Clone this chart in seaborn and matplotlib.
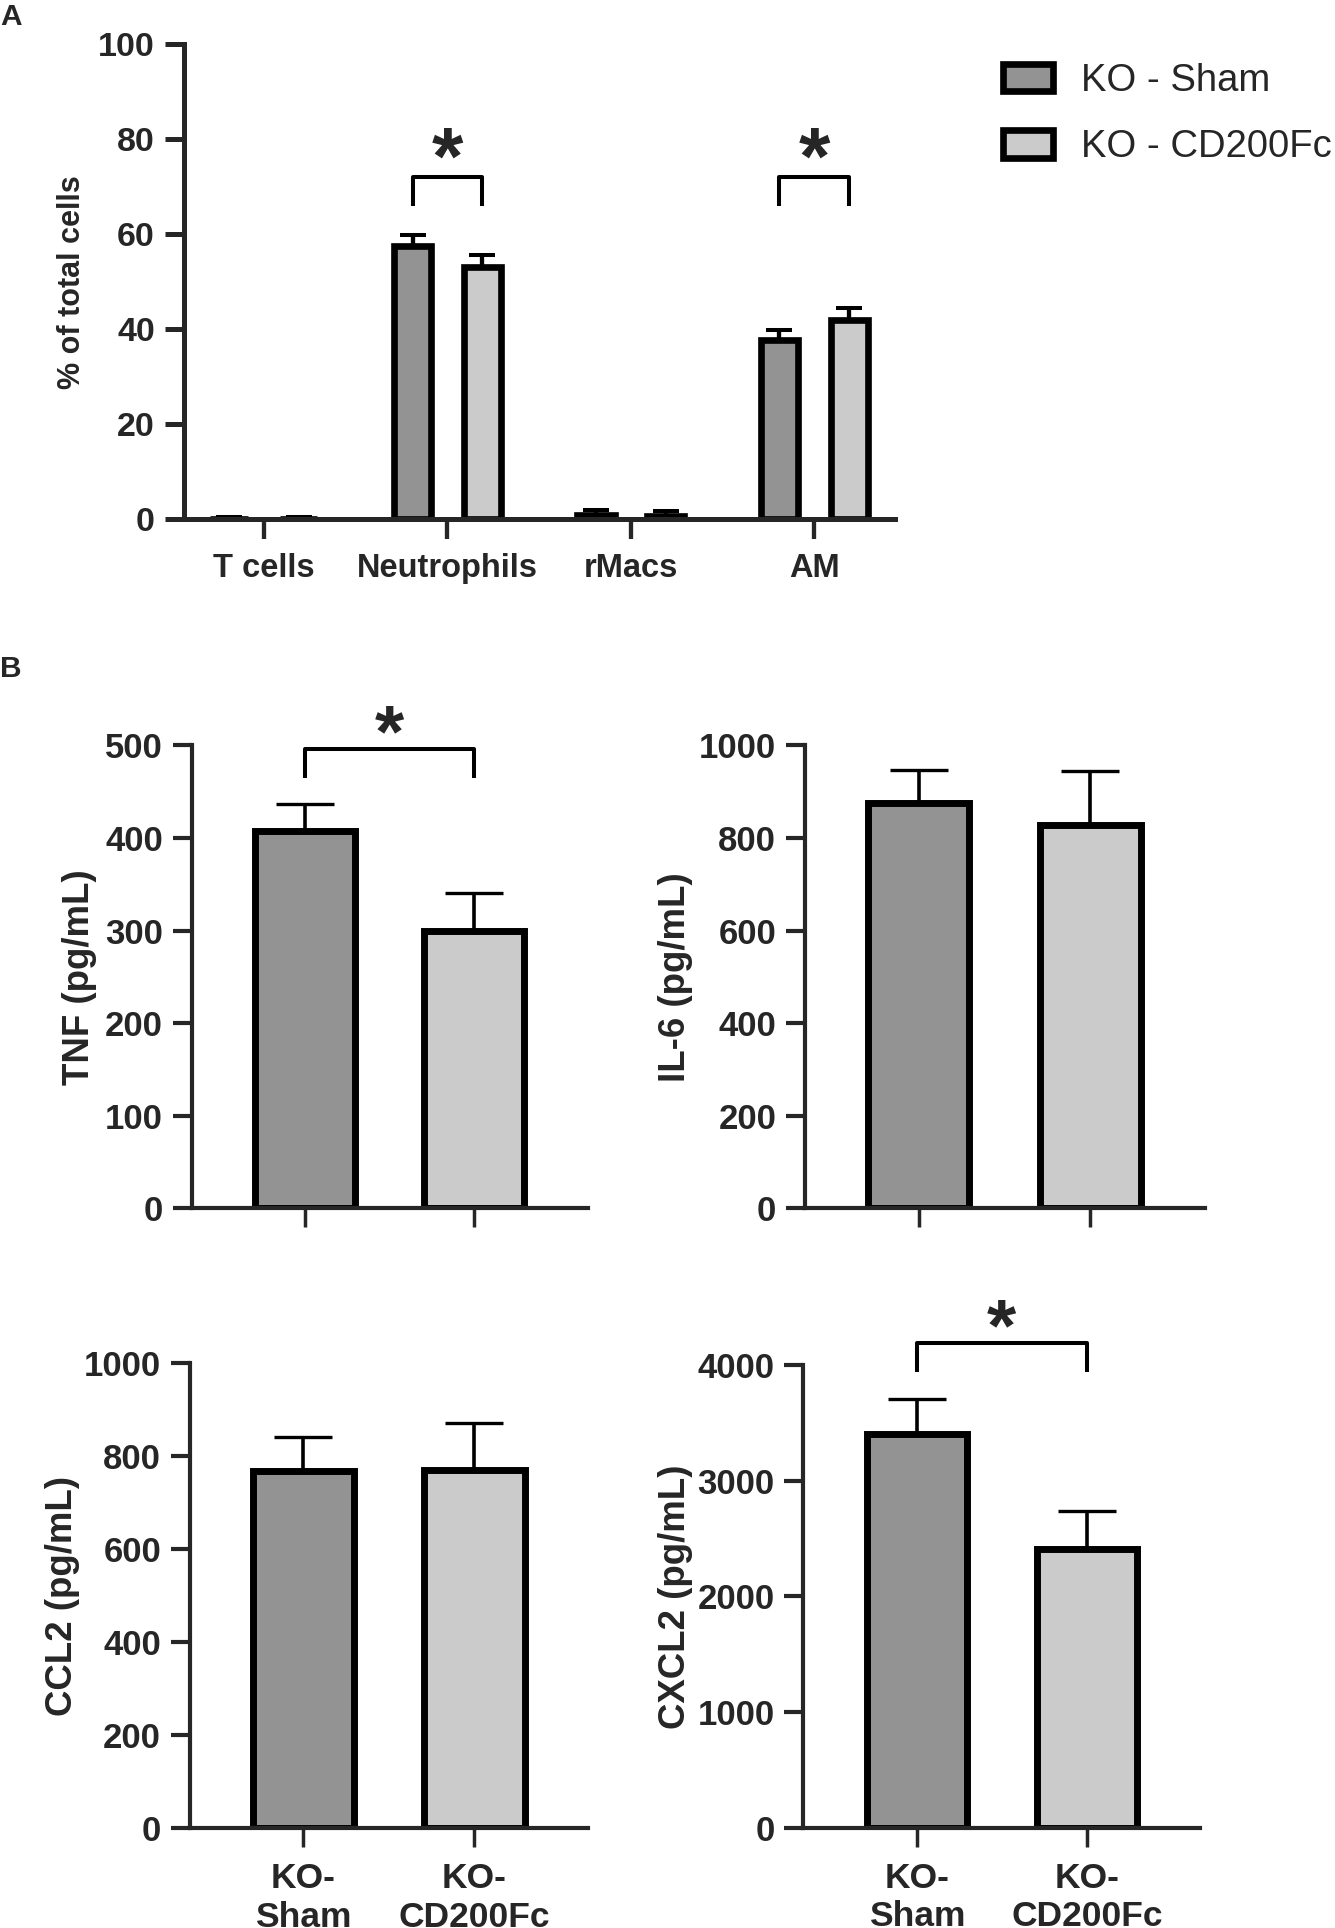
import matplotlib
matplotlib.use("Agg")
import matplotlib.pyplot as plt
import pandas as pd
import seaborn as sns
from matplotlib.patches import Patch

# ---- panel A: cell populations ----
cells = ["T cells", "Neutrophils", "rMacs", "AM"]
groups = ["KO - Sham", "KO - CD200Fc"]
sham_pct = [0.1, 57.6, 0.9, 37.8]
sham_sem = [0.45, 2.3, 1.0, 2.0]
cd200_pct = [0.1, 53.2, 0.7, 42.0]
cd200_sem = [0.45, 2.4, 1.1, 2.4]
sig_cells = ["Neutrophils", "AM"]
sig_a = [72.1, 65.9, 79.5]  # bracket top, leg bottom, star

# ---- panel B: cytokines ----
bar_names = ["KO-\nSham", "KO-\nCD200Fc"]
tnf_mean = [407, 300]
tnf_sem = [30, 40]
il6_mean = [876, 828]
il6_sem = [71, 117]
ccl2_mean = [768, 770]
ccl2_sem = [74, 103]
cxcl2_mean = [3403, 2412]
cxcl2_sem = [305, 329]
tnf_sig = [496.5, 464.7, 530]
cxcl2_sig = [4188, 3937, 4460]

colors = ["#939393", "#cbcbcb"]

sns.set_style("ticks")
plt.rcParams["font.family"] = ["Liberation Sans", "DejaVu Sans"]
plt.rcParams["font.weight"] = "bold"
plt.rcParams["axes.labelweight"] = "bold"

fig = plt.figure(figsize=(13.35, 19.28), dpi=100)


def bracket(ax, x0, x1, sig, lw, fs):
    top, leg, star = sig
    ax.plot([x0, x0, x1, x1], [leg, top, top, leg], color="black", lw=lw,
            clip_on=False, solid_capstyle="butt")
    ax.annotate("*", xy=((x0 + x1) / 2, star), xytext=(0, -0.52 * fs),
                textcoords="offset points", ha="center", va="baseline",
                fontsize=fs, fontweight="bold", annotation_clip=False)


def bar_centers(ax):
    out = []
    for c in ax.containers:
        out.append([p.get_x() + p.get_width() / 2 for p in c])
    return out


# ---------------- panel A ----------------
axA = fig.add_axes([0.1378, 0.7307, 0.5326, 0.2463])
dfA = pd.DataFrame({
    "cell": cells * 2,
    "group": [groups[0]] * 4 + [groups[1]] * 4,
    "pct": sham_pct + cd200_pct,
})
sns.barplot(data=dfA, x="cell", y="pct", hue="group", palette=colors,
            width=0.76, gap=0.466, edgecolor="black", linewidth=4.8,
            errorbar=None, legend=False, ax=axA)
xs = bar_centers(axA)
for xc, m, s in [(xs[0], sham_pct, sham_sem), (xs[1], cd200_pct, cd200_sem)]:
    axA.errorbar(xc, m, yerr=[[0] * len(m), s], fmt="none", ecolor="black",
                 elinewidth=3.1, capsize=9.6, capthick=2.9, zorder=1)
for name in sig_cells:
    i = cells.index(name)
    bracket(axA, xs[0][i], xs[1][i], sig_a, 2.9, 58)
axA.set_ylim(0, 100)
axA.set_yticks(range(0, 101, 20))
axA.set_xlim(-0.436, 3.44)
axA.set_xlabel("")
axA.set_ylabel("% of total cells", fontsize=22)
axA.yaxis.set_label_coords(-0.136, 0.5)
axA.tick_params(axis="y", length=14, width=3.6, pad=7, labelsize=24.5)
axA.tick_params(axis="x", length=14.5, width=3.1, pad=10, labelsize=23.5)
for sp in ["left", "bottom"]:
    axA.spines[sp].set_linewidth(3.6)
sns.despine(ax=axA)

handles = [Patch(facecolor=colors[0], edgecolor="black", linewidth=4.8),
           Patch(facecolor=colors[1], edgecolor="black", linewidth=4.8)]
fig.legend(handles, groups, loc="upper left", bbox_to_anchor=(0.7516, 0.9675),
           frameon=False, prop={"size": 27.5, "weight": "normal"},
           handlelength=1.31, handleheight=0.73, handletextpad=0.72,
           labelspacing=0.80, borderpad=0, borderaxespad=0)

fig.text(0.0, 0.987, "A", fontsize=21.5, fontweight="bold", va="baseline")
fig.text(0.0, 0.649, "B", fontsize=21.5, fontweight="bold", va="baseline")

# ---------------- panel B ----------------
panels = [
    ([0.1435, 0.3733, 0.2966, 0.2401], tnf_mean, tnf_sem, "TNF (pg/mL)", 500, 100, -0.239, tnf_sig, False),
    ([0.6027, 0.3733, 0.2996, 0.2401], il6_mean, il6_sem, "IL-6 (pg/mL)", 1000, 200, -0.280, None, False),
    ([0.1420, 0.0517, 0.2985, 0.2411], ccl2_mean, ccl2_sem, "CCL2 (pg/mL)", 1000, 200, -0.274, None, True),
    ([0.6017, 0.0521, 0.2975, 0.2399], cxcl2_mean, cxcl2_sem, "CXCL2 (pg/mL)", 4000, 1000, -0.278, cxcl2_sig, True),
]
for rect, mean, sem, label, top, step, lx, sig, show_names in panels:
    ax = fig.add_axes(rect)
    sns.barplot(x=bar_names, y=mean, hue=bar_names, palette=colors,
                width=0.59, edgecolor="black", linewidth=5.0,
                errorbar=None, legend=False, ax=ax)
    xc = bar_centers(ax)
    xc = [c[0] for c in xc]
    ax.errorbar(xc, mean, yerr=[[0] * len(mean), sem], fmt="none", ecolor="black",
                elinewidth=2.6, capsize=21.2, capthick=2.4, zorder=1)
    if sig is not None:
        bracket(ax, xc[0], xc[1], sig, 2.9, 54)
    ax.set_ylim(0, top)
    ax.set_yticks(range(0, top + 1, step))
    ax.set_xlim(-0.667, 1.667)
    ax.set_ylabel(label, fontsize=26.4)
    ax.yaxis.set_label_coords(lx, 0.5)
    if not show_names:
        ax.set_xticklabels([])
    ax.tick_params(axis="y", length=13.5, width=3.0, pad=7, labelsize=25)
    ax.tick_params(axis="x", length=14, width=2.5, pad=10.5, labelsize=25.5)
    for sp in ["left", "bottom"]:
        ax.spines[sp].set_linewidth(3.0)
    sns.despine(ax=ax)

fig.savefig("out.png", dpi=100)
